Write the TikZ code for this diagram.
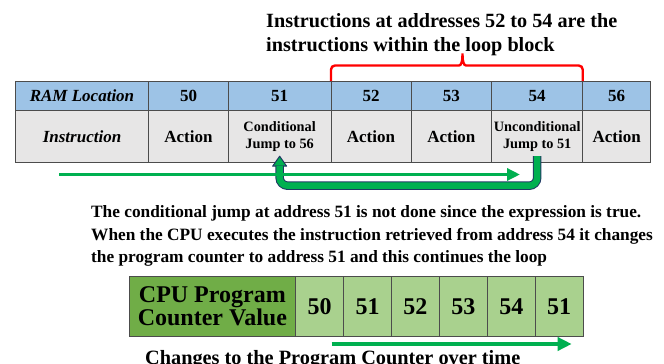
\documentclass[tikz,border=0pt]{standalone}
\usepackage{fontspec}
\setmainfont{Liberation Serif}
\usetikzlibrary{positioning,arrows.meta}

\definecolor{ramblue}{HTML}{9DC3E6}
\definecolor{insgray}{HTML}{E7E6E6}
\definecolor{pcdark}{HTML}{70AD47}
\definecolor{pclight}{HTML}{A9D18E}
\definecolor{flowgreen}{HTML}{00B050}
\definecolor{edgeblue}{HTML}{1F3864}

\begin{document}
\begin{tikzpicture}
[x=1pt,y=-1pt,
cell/.style = {draw=black!70, line width=0.8pt, inner sep=0pt, outer sep=0pt, minimum height=29.7, anchor=north west, align=center},
headcell/.style = {cell, fill=ramblue, font=\bfseries\fontsize{17}{20}\selectfont},
inscell/.style = {cell, fill=insgray, minimum height=52, font=\bfseries\fontsize{17}{20}\selectfont},
jumptext/.style = {font=\bfseries\fontsize{14.3}{17.7}\selectfont},
pccell/.style = {cell, fill=pclight, minimum width=47.9, minimum height=60, font=\bfseries\fontsize{24}{21.6}\selectfont},
flow/.style = {draw=flowgreen, line width=3.5pt, -{Triangle[length=13pt,width=12pt]}},
jump/.style = {draw=edgeblue, line width=1pt, double=flowgreen, double distance=6.5pt, rounded corners=8pt},
jumphead/.style = {fill=flowgreen, draw=edgeblue, line width=1pt, line join=round},
loopbrace/.style = {draw=red, line width=2.4pt, rounded corners=4pt},
note/.style = {inner sep=0pt, align=left, anchor=north west},]
\useasboundingbox (0,0) rectangle (664,364);

% RAM table
\node (ram) at (15.3,81) [headcell, minimum width=133.4] {\itshape RAM Location};
\node (h50) [headcell, minimum width=79.6, right=0pt of ram] {50};
\node (h51) [headcell, minimum width=102.7, right=0pt of h50] {51};
\node (h52) [headcell, minimum width=80, right=0pt of h51] {52};
\node (h53) [headcell, minimum width=80.7, right=0pt of h52] {53};
\node (h54) [headcell, minimum width=91, right=0pt of h53] {54};
\node (h56) [headcell, minimum width=68, right=0pt of h54] {56};

\node (ins) [inscell, minimum width=133.4, below=0pt of ram] {\itshape Instruction};
\node (i50) [inscell, minimum width=79.6, below=0pt of h50] {Action};
\node (i51) [inscell, jumptext, minimum width=102.7, below=0pt of h51] {Conditional\\Jump to 56};
\node (i52) [inscell, minimum width=80, below=0pt of h52] {Action};
\node (i53) [inscell, minimum width=80.7, below=0pt of h53] {Action};
\node (i54) [inscell, jumptext, minimum width=91, below=0pt of h54] {Unconditional\\Jump to 51};
\node (i56) [inscell, minimum width=68, below=0pt of h56] {Action};

% loop block
\draw[loopbrace] (h52.north west) |- (455,65.5) .. controls (461,65.5) and (462.5,62) .. (462.5,51)
  .. controls (462.5,62) and (464,65.5) .. (470,65.5) -| (h54.north east);
\node (looptext) at (266,13) [note, font=\bfseries\fontsize{20.2}{24.5}\selectfont]
  {Instructions at addresses 52 to 54 are the\\instructions within the loop block};

% jump back from 54 to 51
\coordinate (jtip) at ([yshift=6.5pt]i51.south);
\coordinate (jbase) at ([yshift=-3pt]i51.south);
\filldraw[jumphead] (jtip) -- ++(-7,10) -- ++(14,0) -- cycle;
\draw[jump] ([yshift=6.5pt]i54.south) -- ++(0,29.5) -| (jbase);

% flow of execution
\coordinate (flowstart) at (59,174.5);
\coordinate (flowend) at (520,174.5);
\draw[flow] (flowstart) -- (flowend);

\node (explain) at (91,205.5) [note, font=\bfseries\fontsize{17.3}{22.5}\selectfont]
  {The conditional jump at address 51 is not done since the expression is true.\\
   When the CPU executes the instruction retrieved from address 54 it changes\\
   the program counter to address 51 and this continues the loop};

% program counter
\node (pc) at (129,276.7) [pccell, fill=pcdark, minimum width=166.7] {CPU Program\\Counter Value};
\node (p1) [pccell, right=0pt of pc] {50};
\node (p2) [pccell, right=0pt of p1] {51};
\node (p3) [pccell, right=0pt of p2] {52};
\node (p4) [pccell, right=0pt of p3] {53};
\node (p5) [pccell, right=0pt of p4] {54};
\node (p6) [pccell, right=0pt of p5] {51};

\coordinate (timestart) at (331.7,344);
\coordinate (timeend) at (571.7,344);
\draw[flow, line width=4pt, -{Triangle[length=14pt,width=13pt]}] (timestart) -- (timeend);

\node (timetext) at (145,364.5) [inner sep=0pt, anchor=base west, font=\bfseries\fontsize{20.3}{24}\selectfont]
  {Changes to the Program Counter over time};

\end{tikzpicture}
\end{document}
